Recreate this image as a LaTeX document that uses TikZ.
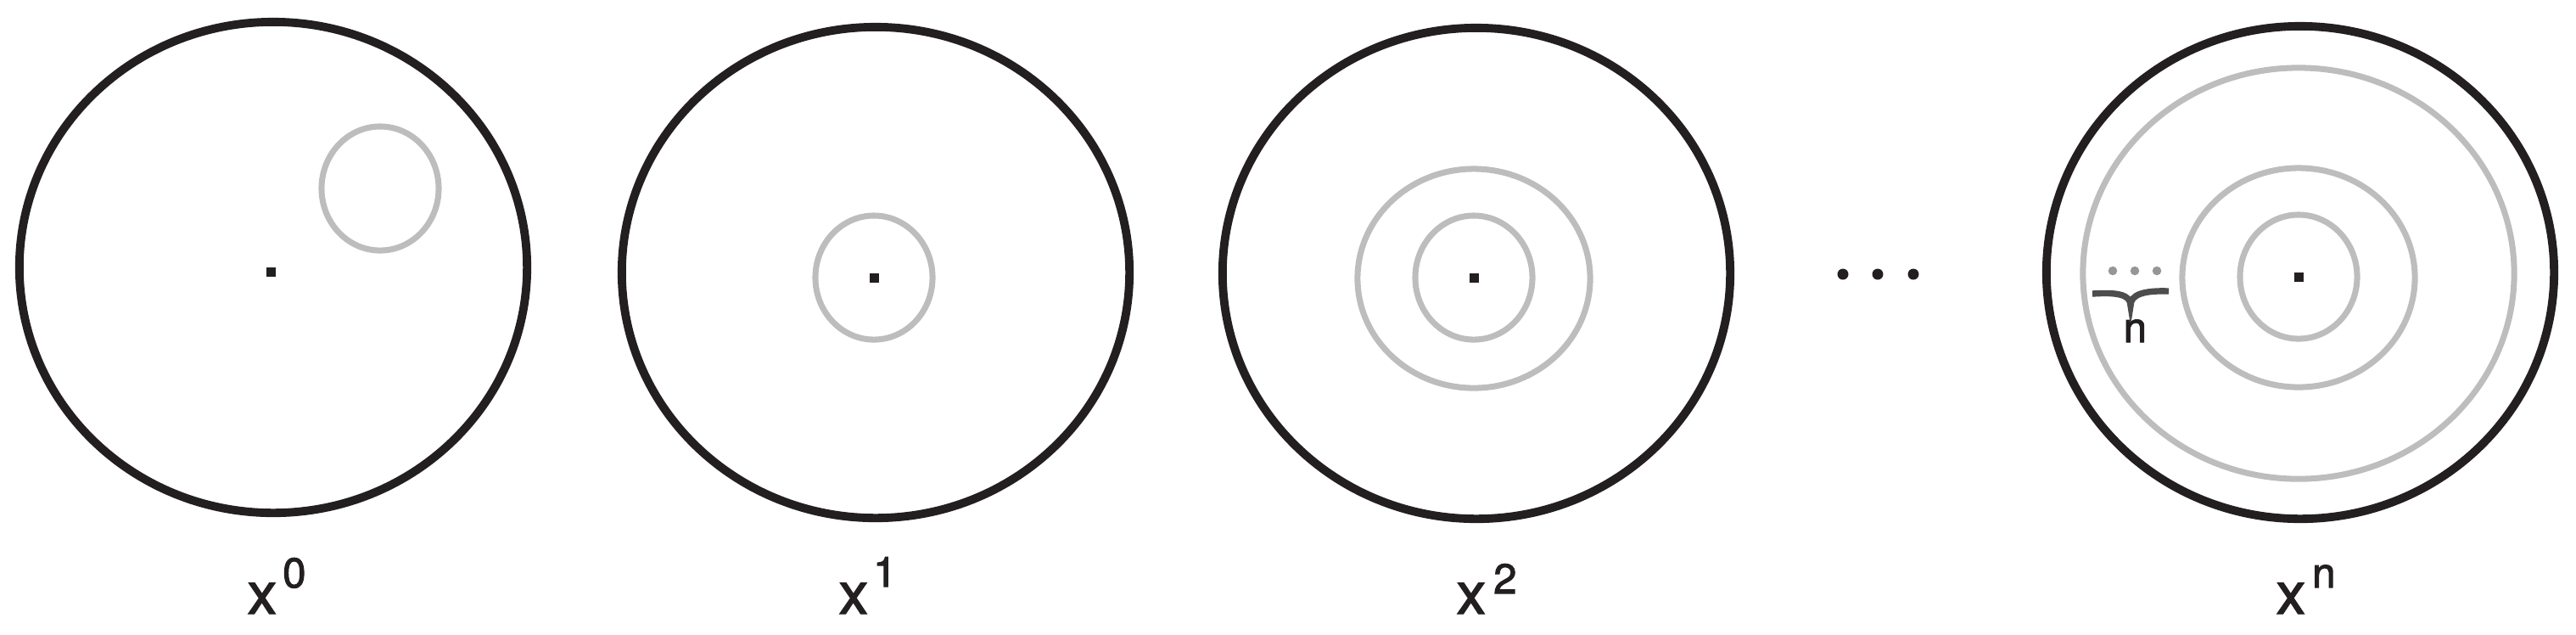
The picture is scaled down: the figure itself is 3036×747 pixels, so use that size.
\documentclass[tikz,border=0pt]{standalone}
\usepackage{fontspec}
\setmainfont{TeX Gyre Heros}
\newfontfamily\lblfont{TeX Gyre Heros}[FakeBold=2]
\definecolor{ink}{HTML}{231F20}
\definecolor{ringgray}{HTML}{BDBDBD}
\definecolor{dotgray}{HTML}{969696}
\definecolor{bracegray}{HTML}{4D4D4D}
\newcommand{\mainfs}{\lblfont\fontsize{19.6}{20}\selectfont}
\newcommand{\supfs}{\lblfont\fontsize{14}{14}\selectfont}
\begin{document}
\begin{tikzpicture}[x=0.01cm,y=-0.01cm,
  outerring/.style={draw=ink,line width=2.8pt},
  innerring/.style={draw=ringgray,line width=2pt},
  centerdot/.style={fill=ink,minimum size=0.11cm,inner sep=0pt,draw=none,rectangle},
  blackdot/.style={circle,fill=ink,minimum size=0.13cm,inner sep=0pt},
  greydot/.style={circle,fill=dotgray,minimum size=0.105cm,inner sep=0pt},
  lbl/.style={anchor=base west,inner sep=0pt,text=ink,font=\mainfs},
  nlbl/.style={anchor=base west,inner sep=0pt,text=ink,font=\supfs}]
\useasboundingbox (0,0) rectangle (3036,747);
% diagram x^0
\draw[outerring] (322,315) ellipse [x radius=2.99cm, y radius=2.89cm];
\draw[innerring] (448,222) ellipse [x radius=0.69cm, y radius=0.73cm];
\node[centerdot] (c0) at (319,320) {};
\node[lbl] (l0) at (291,723) {x\hspace{0.07cm}\raisebox{0.31cm}{\supfs 0}};
% diagram x^1
\draw[outerring] (1032,321) ellipse [x radius=2.99cm, y radius=2.89cm];
\draw[innerring] (1030,327) ellipse [x radius=0.69cm, y radius=0.73cm];
\node[centerdot] (c1) at (1030,327) {};
\node[lbl] (l1) at (988,723) {x\hspace{0.06cm}\raisebox{0.32cm}{\supfs 1}};
% diagram x^2
\draw[outerring] (1740,322) ellipse [x radius=2.99cm, y radius=2.89cm];
\draw[innerring] (1737,328) ellipse [x radius=1.37cm, y radius=1.29cm];
\draw[innerring] (1737,327) ellipse [x radius=0.69cm, y radius=0.73cm];
\node[centerdot] (c2) at (1737,327) {};
\node[lbl] (l2) at (1716,723) {x\hspace{0.09cm}\raisebox{0.24cm}{\supfs 2}};
% ellipsis
\node[blackdot] (e1) at (2172,323) {};
\node[blackdot] (e2) at (2213,323) {};
\node[blackdot] (e3) at (2255,323) {};
% diagram x^n
\draw[outerring] (2711,321) ellipse [x radius=2.99cm, y radius=2.9cm];
\draw[innerring] (2709,322) ellipse [x radius=2.54cm, y radius=2.42cm];
\draw[innerring] (2709,327) ellipse [x radius=1.37cm, y radius=1.29cm];
\draw[innerring] (2709,326) ellipse [x radius=0.69cm, y radius=0.73cm];
\node[centerdot] (c3) at (2709,326) {};
\node[greydot] (g1) at (2490,319) {};
\node[greydot] (g2) at (2516,319) {};
\node[greydot] (g3) at (2542,319) {};
\coordinate (bl) at (2466,346);
\coordinate (bt) at (2511,360);
\coordinate (br) at (2556,343);
\draw[bracegray,line width=2.1pt] (bl) .. controls (2496,344) and (2511,347) .. (bt)
  .. controls (2511,347) and (2526,342) .. (br);
\node[nlbl] (nb) at (2502,403) {n};
\node[lbl] (l3) at (2682,723) {x\hspace{0.08cm}\raisebox{0.31cm}{\supfs n}};
\end{tikzpicture}
\end{document}
